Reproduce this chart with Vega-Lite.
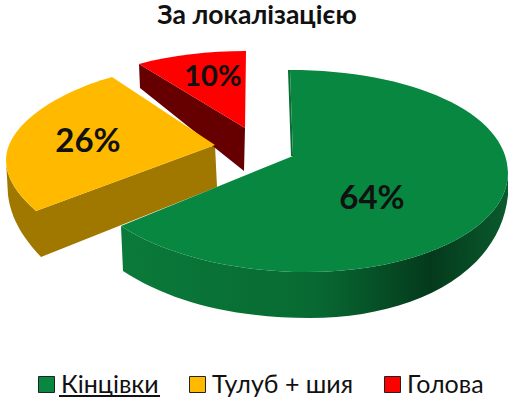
{
"$schema":"https://vega.github.io/schema/vega-lite/v6.json",
"width":514,"height":344,"padding":{"top":30,"bottom":31,"left":0,"right":0},"autosize":{"type":"none"},
"background":"white",
"title":{"text":"За локалізацією","font":"Lato","fontSize":26.5,"fontWeight":"bold","color":"#111","anchor":"middle","orient":"top","frame":"group","offset":-20,"baseline":"alphabetic"},
"config":{"view":{"stroke":null}},
"data":{"values":[
{"zone":"Кінцівки","share":64,"label":"64%"},
{"zone":"Тулуб + шия","share":26,"label":"26%"},
{"zone":"Голова","share":10,"label":"10%"}
]},
"encoding":{},
"layer":[
{"transform":[{"filter":"datum.zone==='Кінцівки'"}],"mark":{"type":"point","filled":true,"opacity":1,"size":4,"fill":{"gradient":"linear","x1":0,"y1":0,"x2":1,"y2":0,"stops":[{"offset":0,"color":"#0a7a3a"},{"offset":0.5,"color":"#086a32"},{"offset":0.8,"color":"#043a1c"},{"offset":1,"color":"#0a5a2c"}]},"shape":"M-136,24 C-92,53 -22,70 50,70 C163,70 251,26 251,-29 L251,-7 C243,73 153,116 53,116 C-22,116 -87,100 -134,69 Z M31,-132 L34,-46 L36,-46 L33,-132 Z"}},
{"transform":[{"filter":"datum.zone==='Тулуб + шия'"}],"mark":{"type":"point","filled":true,"opacity":1,"size":4,"fill":"#a07800","shape":"M-42,-57 L-40,-15 L-216,55 C-232,38 -246,18 -249,-7 L-251,-42 C-251,-24 -240,-8 -221,9 Z"}},
{"transform":[{"filter":"datum.zone==='Голова'"}],"mark":{"type":"point","filled":true,"opacity":1,"size":4,"fill":"#660000","shape":"M-118,-138 L-12,-74 L-13,-31 L-117,-114 Z"}},
{"transform":[{"filter":"datum.zone==='Кінцівки'"}],"mark":{"type":"point","filled":true,"opacity":1,"size":4,"shape":"M33,-132 C153,-132 251,-90 251,-29 C251,26 163,70 50,70 C-22,70 -92,53 -136,24 L36,-46 Z"},
 "encoding":{"color":{"field":"zone","type":"nominal","scale":{"domain":["Кінцівки","Тулуб + шия","Голова"],"range":["#07873f","#ffba00","#ff0000"]},
  "legend":{"title":null,"orient":"none","legendX":34,"legendY":342,"direction":"horizontal","columns":3,"gridAlign":"none","symbolType":"square","symbolSize":256,"symbolStrokeWidth":1,"symbolStrokeColor":"#222","labelFont":"Lato","labelFontSize":25,"labelColor":"#111","labelOffset":2,"columnPadding":26,"labelLimit":200,"symbolOpacity":1}}}},
{"transform":[{"filter":"datum.zone==='Тулуб + шия'"}],"mark":{"type":"point","filled":true,"opacity":1,"size":4,"shape":"M-145,-125 L-42,-57 L-221,9 C-240,-8 -251,-24 -251,-42 C-251,-75 -205,-108 -145,-125 Z"},
 "encoding":{"color":{"field":"zone","type":"nominal"}}},
{"transform":[{"filter":"datum.zone==='Голова'"}],"mark":{"type":"point","filled":true,"opacity":1,"size":4,"shape":"M-118,-138 C-85,-147 -48,-151 -11,-151 L-12,-74 Z"},
 "encoding":{"color":{"field":"zone","type":"nominal"}}},
{"transform":[{"filter":"datum.zone==='Кінцівки'"}],"mark":{"type":"text","font":"Lato","fontSize":33,"fontWeight":"bold","color":"#111","dx":115,"dy":-3},"encoding":{"text":{"field":"label"}}},
{"transform":[{"filter":"datum.zone==='Тулуб + шия'"}],"mark":{"type":"text","font":"Lato","fontSize":33,"fontWeight":"bold","color":"#111","dx":-169,"dy":-60},"encoding":{"text":{"field":"label"}}},
{"transform":[{"filter":"datum.zone==='Голова'"}],"mark":{"type":"text","font":"Lato","fontSize":29,"fontWeight":"bold","color":"#111","dx":-44,"dy":-125},"encoding":{"text":{"field":"label"}}},
{"transform":[{"filter":"datum.zone==='Кінцівки'"}],"mark":{"type":"point","filled":true,"opacity":1,"size":4,"fill":"#111","shape":"M-198,193 L-97,193 L-97,195 L-198,195 Z"}}
]
}
